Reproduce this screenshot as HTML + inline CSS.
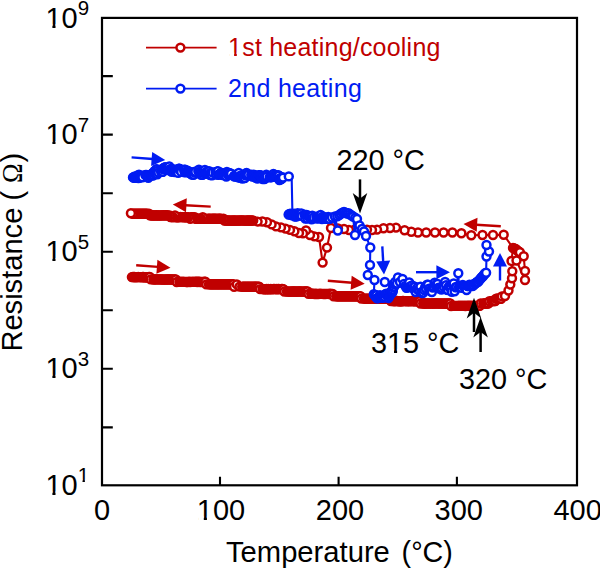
<!DOCTYPE html>
<html>
<head>
<meta charset="utf-8">
<title>Resistance vs Temperature</title>
<style>
html,body{margin:0;padding:0;background:#fff}
body{width:600px;height:569px;overflow:hidden;font-family:"Liberation Sans",sans-serif}
svg{display:block}
</style>
</head>
<body>
<svg width="600" height="569" viewBox="0 0 600 569">
<rect width="600" height="569" fill="#fff"/>
<path d="M102 427.4h10.8M102 368.8h10.8M102 310.3h10.8M102 251.8h10.8M102 193.2h10.8M102 134.6h10.8M102 76.1h10.8M220 485.3v-8.5M338.6 485.3v-8.5M456.9 485.3v-8.5" stroke="#000" stroke-width="2.1" fill="none"/>
<polyline fill="none" stroke="#c00000" stroke-width="2.1" stroke-linejoin="round" points="131.9,277.1 132.8,277 133.7,277 134.6,277 135.5,277.2 136.4,277.1 137.3,277.1 138.2,277 139.1,277.1 140,277.1 140.9,277.1 141.8,277.2 142.7,277 143.5,277 144.4,277.2 145.3,277.2 146.2,277.2 147.1,277.2 148,277.2 148.9,277 149.8,277 150.7,279.4 153.4,279.5 154.3,279.4 155.2,279.4 156.1,279.4 157,279.4 157.9,279.4 158.8,279.4 159.7,279.4 160.6,279.4 161.5,279.4 162.4,279.5 163.3,279.6 164.2,279.4 165.1,279.6 166,279.5 166.8,279.4 167.7,279.5 168.6,279.4 169.5,279.4 170.4,279.5 171.3,279.4 172.2,279.5 173.1,279.6 174,279.4 174.9,279.4 175.8,279.5 176.7,282 179.4,281.9 180.3,281.8 181.2,281.9 182.1,281.9 183,281.8 183.9,281.9 184.8,281.9 185.7,281.9 186.6,282 187.5,282 188.4,281.9 189.3,281.8 190.1,282 191,281.9 191.9,281.9 192.8,281.8 193.7,281.9 194.6,281.9 195.5,281.8 196.4,281.8 197.3,282 198.2,281.8 199.1,281.8 200,282 200.9,281.9 201.8,282 202.7,281.9 203.6,281.9 204.5,281.8 205.4,281.8 206.3,284.4 209,284.4 209.9,284.3 210.8,284.2 211.7,284.3 212.6,284.2 213.5,284.3 214.4,284.4 215.3,284.3 216.2,284.2 217.1,284.3 218,284.3 218.8,284.3 219.7,284.4 220.6,284.4 221.5,284.3 222.4,284.3 223.3,284.4 224.2,284.3 225.1,284.3 226,284.2 226.9,284.3 227.8,284.2 228.7,284.2 229.6,284.3 230.5,284.4 231.4,284.4 232.3,284.2 233.2,284.3 234.1,286.8 236.8,284.4 239.5,286.6 242.2,286.7 243.1,286.6 244,286.8 244.9,286.8 245.8,286.7 246.7,286.7 247.6,286.8 248.4,286.7 249.3,286.7 250.2,286.8 251.1,286.6 252,286.8 252.9,286.7 253.8,286.8 254.7,286.8 255.6,286.7 256.5,286.7 257.4,286.6 258.3,286.6 259.2,286.7 260.1,289.1 262.8,289.1 263.7,289.2 264.6,289.1 265.5,289.2 266.4,289 267.3,289.2 268.2,289 269.1,289.2 269.9,289.1 270.8,289 271.7,289.2 272.6,289.1 273.5,289 274.4,289 275.3,289.1 276.2,289 277.1,289.2 278,289 278.9,289 279.8,289.1 280.7,289.1 281.6,289 282.5,289 283.4,289.1 284.3,291.5 287,291.5 287.9,291.6 288.8,291.4 289.7,291.6 290.6,291.6 291.5,291.5 292.3,291.5 293.2,291.4 294.1,291.5 295,291.5 295.9,291.5 296.8,291.6 297.7,291.5 298.6,291.5 299.5,291.4 300.4,291.5 301.3,291.4 302.2,291.6 303.1,291.6 304,291.5 304.9,291.4 305.8,291.4 306.7,291.5 307.6,291.5 308.5,293.9 311.2,293.8 312.1,293.8 312.9,293.8 313.8,293.9 314.7,294 315.6,293.8 316.5,294 317.4,293.9 318.3,294 319.2,293.9 320.1,293.8 321,293.9 321.9,293.9 322.8,293.9 323.7,294 324.6,293.9 325.5,294 326.4,293.9 327.3,293.9 328.2,293.9 329.1,294 330,293.8 330.9,293.9 331.8,293.9 332.7,293.9 333.6,296.3 336.2,296.3 337.1,296.2 338,296.4 338.9,296.3 339.8,296.3 340.7,296.2 341.6,296.3 342.5,296.2 343.4,296.3 344.3,296.3 345.2,296.2 346.1,296.2 347,296.2 347.9,296.3 348.8,296.3 349.7,296.4 350.6,296.4 351.5,296.2 352.4,296.2 353.3,296.3 354.2,296.2 355,296.4 355.9,296.2 356.8,296.4 357.7,296.3 358.6,296.4 359.5,296.3 360.4,296.2 361.3,298.6 364,298.6 364.9,298.6 365.8,298.7 366.7,298.8 367.6,298.7 368.5,298.8 369.4,298.8 370.3,298.8 371.2,298.8 372.1,298.8 373,298.7 373.9,298.7 374.8,298.6 375.7,298.6 376.6,298.6 377.5,298.6 378.4,298.7 379.3,298.6 380.2,298.6 381.1,298.6 382,298.6 382.8,298.8 383.7,298.6 384.6,298.7 385.5,298.7 386.4,298.8 387.3,298.7 388.2,298.7 389.1,298.6 390,298.7 390.9,301 393.6,301.2 394.5,301.1 395.4,301 396.3,301 397.2,301 398.1,301.1 399,301.2 399.9,301.2 400.8,301.2 401.7,301.2 402.6,301 403.5,301 404.4,301.1 405.3,301.1 406.2,301.1 407.1,301.2 408,301.1 408.9,301.1 409.8,301.2 410.7,301.1 411.6,301 412.5,301.1 413.4,301.1 414.2,301.2 415.1,301.2 416,301 416.9,301 417.8,301.2 418.7,301 419.6,301.1 420.5,303.5 423.2,303.5 424.1,303.5 425,303.5 425.9,303.5 426.8,303.4 427.7,303.4 428.6,303.5 429.5,303.4 430.4,303.6 431.3,303.4 432.2,303.6 433.1,303.4 434,303.5 434.9,303.5 435.8,303.4 436.7,303.4 437.6,303.4 438.5,303.5 439.4,303.6 440.3,303.4 441.2,303.4 442.1,303.6 443,303.5 443.9,303.6 444.8,303.5 445.7,303.5 446.6,303.6 447.5,303.4 448.4,303.5 449.3,303.5 450.2,303.5 451.1,306 453.8,305.9 454.6,305.9 455.5,305.9 456.4,305.9 457.3,305.9 458.2,305.9 459.1,305.8 460,305.9 460.9,305.9 461.8,305.8 462.7,305.9 463.6,305.9 464.5,305.8 465.4,306 466.3,305.9 467.2,305.8 468.1,305.9 469,305.8 469.9,306 470.8,305.8 471.7,306 472.6,305.9 473.5,305.8 474.4,306 475.3,305.9 476.2,306 477.1,306 478,306 478.9,305.8 479.8,305.8 480.7,303.5 483.3,303.5 484.2,303.5 485.1,303.4 485.9,303.5 486.8,303.5 487.7,303.5 488.6,303.4 489.4,301.2 491.9,301 492.8,301.1 493.6,301.1 494.4,301 495.3,301.1 496.1,298.6 496.9,298.8 497.8,298.7 498.6,298.7 499.4,298.7 500.2,298.8 501.1,298.7 501.9,296.4 505,296 508.5,290.5 510.3,284.5 512,278.3 512.3,271.3 511.5,261 513,247.9 514,248.5 515,248.8 516,249.1 517,250.4 517.9,250.9 518.9,251.8 519.9,252.2 523.7,256.3 525,271 525,280 516.5,260.5"/>
<polyline fill="none" stroke="#c00000" stroke-width="2.1" stroke-linejoin="round" points="513,248 503.7,234.7 493,235 482.5,235 471.3,235.3 461.4,233.2 452.4,232.5 443.6,232.5 435,232.5 426.2,232.5 418,232.5 411.3,231.7 404.6,230.3 396,227.6 390,228 383.5,228.2 377,229.6 372,230 367,229.6 361,229.3 355,229.5 349,230 344,229 338,228.5 331,228 327,247.6 322.6,262.6 319,237 314.4,236.4 310,235 306,230.4 303,233.4 299,233 294.4,231.2 290,229.9 285.6,228.6 281,227.4 276,226.4 271.6,224.4 267,222.2 262.4,221.5 257.6,221.6 253.2,220.6 252.3,220.5 251.4,220.5 250.5,220.6 249.6,220.5 248.7,220.5 247.8,220.5 246.9,220.5 246,220.6 245.1,220.6 244.2,220.6 243.3,220.4 242.4,220.4 241.5,220.4 240.6,220.6 239.7,220.4 238.8,220.5 237.9,220.6 237,220.6 236.1,220.5 235.2,220.6 234.3,220.5 233.4,220.5 232.5,220.6 231.6,220.5 230.7,220.6 229.8,220.6 228.9,220.5 228,220.4 227.1,220.5 226.2,220.6 225.3,220.4 224.4,220.5 223.5,218.8 221.7,218.9 220.8,218.7 219.9,218.8 219,218.7 218.1,218.8 217.2,218.9 216.3,218.7 215.4,218.7 214.5,218.7 213.6,218.7 212.7,218.8 211.8,218.7 210.9,218.9 210,218.7 209.1,218.8 208.2,218.8 207.3,218.9 206.4,218.9 205.5,218.9 204.6,218.8 203.7,218.7 202.8,217.1 201,218.8 199.2,218.8 198.4,218.9 197.5,218.8 196.6,218.8 195.7,218.7 194.8,217.1 193,217.1 192.1,217.1 191.2,217.1 190.3,218.8 188.5,217.1 186.7,217.2 185.8,217.2 184.9,217.1 184,217.2 183.1,217.1 182.2,217.1 181.3,217.1 180.4,217 179.5,217.1 178.6,217.1 177.7,217.2 176.8,217.2 175.9,217.1 175,215.5 173.2,217.2 171.4,217.1 170.5,217.1 169.6,215.4 167.8,215.4 166.9,215.3 166,215.3 165.1,215.4 164.2,215.4 163.4,215.3 162.5,215.4 161.6,215.4 160.7,215.4 159.8,215.5 158.9,215.4 158,215.5 157.1,215.4 156.2,215.3 155.3,215.5 154.4,215.4 153.5,215.4 152.6,215.5 151.7,215.3 150.8,215.3 149.9,215.3 149,213.7 147.2,213.8 146.3,213.8 145.4,213.7 144.5,213.6 143.6,213.6 142.7,213.6 141.8,213.6 140.9,213.7 140,213.7 139.1,213.6 138.2,213.7 137.3,213.8 136.4,213.8 135.5,213.7 134.6,213.7 133.7,213.8 132.8,213.8 130.9,213.2"/>
<g fill="#fff" stroke="#c00000" stroke-width="2.5">
<circle cx="131.9" cy="277.1" r="3.95"/>
<circle cx="132.8" cy="277" r="3.95"/>
<circle cx="133.7" cy="277" r="3.95"/>
<circle cx="134.6" cy="277" r="3.95"/>
<circle cx="135.5" cy="277.2" r="3.95"/>
<circle cx="136.4" cy="277.1" r="3.95"/>
<circle cx="137.3" cy="277.1" r="3.95"/>
<circle cx="138.2" cy="277" r="3.95"/>
<circle cx="139.1" cy="277.1" r="3.95"/>
<circle cx="140" cy="277.1" r="3.95"/>
<circle cx="140.9" cy="277.1" r="3.95"/>
<circle cx="141.8" cy="277.2" r="3.95"/>
<circle cx="142.7" cy="277" r="3.95"/>
<circle cx="143.5" cy="277" r="3.95"/>
<circle cx="144.4" cy="277.2" r="3.95"/>
<circle cx="145.3" cy="277.2" r="3.95"/>
<circle cx="146.2" cy="277.2" r="3.95"/>
<circle cx="147.1" cy="277.2" r="3.95"/>
<circle cx="148" cy="277.2" r="3.95"/>
<circle cx="148.9" cy="277" r="3.95"/>
<circle cx="149.8" cy="277" r="3.95"/>
<circle cx="150.7" cy="279.4" r="3.95"/>
<circle cx="153.4" cy="279.5" r="3.95"/>
<circle cx="154.3" cy="279.4" r="3.95"/>
<circle cx="155.2" cy="279.4" r="3.95"/>
<circle cx="156.1" cy="279.4" r="3.95"/>
<circle cx="157" cy="279.4" r="3.95"/>
<circle cx="157.9" cy="279.4" r="3.95"/>
<circle cx="158.8" cy="279.4" r="3.95"/>
<circle cx="159.7" cy="279.4" r="3.95"/>
<circle cx="160.6" cy="279.4" r="3.95"/>
<circle cx="161.5" cy="279.4" r="3.95"/>
<circle cx="162.4" cy="279.5" r="3.95"/>
<circle cx="163.3" cy="279.6" r="3.95"/>
<circle cx="164.2" cy="279.4" r="3.95"/>
<circle cx="165.1" cy="279.6" r="3.95"/>
<circle cx="166" cy="279.5" r="3.95"/>
<circle cx="166.8" cy="279.4" r="3.95"/>
<circle cx="167.7" cy="279.5" r="3.95"/>
<circle cx="168.6" cy="279.4" r="3.95"/>
<circle cx="169.5" cy="279.4" r="3.95"/>
<circle cx="170.4" cy="279.5" r="3.95"/>
<circle cx="171.3" cy="279.4" r="3.95"/>
<circle cx="172.2" cy="279.5" r="3.95"/>
<circle cx="173.1" cy="279.6" r="3.95"/>
<circle cx="174" cy="279.4" r="3.95"/>
<circle cx="174.9" cy="279.4" r="3.95"/>
<circle cx="175.8" cy="279.5" r="3.95"/>
<circle cx="176.7" cy="282" r="3.95"/>
<circle cx="179.4" cy="281.9" r="3.95"/>
<circle cx="180.3" cy="281.8" r="3.95"/>
<circle cx="181.2" cy="281.9" r="3.95"/>
<circle cx="182.1" cy="281.9" r="3.95"/>
<circle cx="183" cy="281.8" r="3.95"/>
<circle cx="183.9" cy="281.9" r="3.95"/>
<circle cx="184.8" cy="281.9" r="3.95"/>
<circle cx="185.7" cy="281.9" r="3.95"/>
<circle cx="186.6" cy="282" r="3.95"/>
<circle cx="187.5" cy="282" r="3.95"/>
<circle cx="188.4" cy="281.9" r="3.95"/>
<circle cx="189.3" cy="281.8" r="3.95"/>
<circle cx="190.1" cy="282" r="3.95"/>
<circle cx="191" cy="281.9" r="3.95"/>
<circle cx="191.9" cy="281.9" r="3.95"/>
<circle cx="192.8" cy="281.8" r="3.95"/>
<circle cx="193.7" cy="281.9" r="3.95"/>
<circle cx="194.6" cy="281.9" r="3.95"/>
<circle cx="195.5" cy="281.8" r="3.95"/>
<circle cx="196.4" cy="281.8" r="3.95"/>
<circle cx="197.3" cy="282" r="3.95"/>
<circle cx="198.2" cy="281.8" r="3.95"/>
<circle cx="199.1" cy="281.8" r="3.95"/>
<circle cx="200" cy="282" r="3.95"/>
<circle cx="200.9" cy="281.9" r="3.95"/>
<circle cx="201.8" cy="282" r="3.95"/>
<circle cx="202.7" cy="281.9" r="3.95"/>
<circle cx="203.6" cy="281.9" r="3.95"/>
<circle cx="204.5" cy="281.8" r="3.95"/>
<circle cx="205.4" cy="281.8" r="3.95"/>
<circle cx="206.3" cy="284.4" r="3.95"/>
<circle cx="209" cy="284.4" r="3.95"/>
<circle cx="209.9" cy="284.3" r="3.95"/>
<circle cx="210.8" cy="284.2" r="3.95"/>
<circle cx="211.7" cy="284.3" r="3.95"/>
<circle cx="212.6" cy="284.2" r="3.95"/>
<circle cx="213.5" cy="284.3" r="3.95"/>
<circle cx="214.4" cy="284.4" r="3.95"/>
<circle cx="215.3" cy="284.3" r="3.95"/>
<circle cx="216.2" cy="284.2" r="3.95"/>
<circle cx="217.1" cy="284.3" r="3.95"/>
<circle cx="218" cy="284.3" r="3.95"/>
<circle cx="218.8" cy="284.3" r="3.95"/>
<circle cx="219.7" cy="284.4" r="3.95"/>
<circle cx="220.6" cy="284.4" r="3.95"/>
<circle cx="221.5" cy="284.3" r="3.95"/>
<circle cx="222.4" cy="284.3" r="3.95"/>
<circle cx="223.3" cy="284.4" r="3.95"/>
<circle cx="224.2" cy="284.3" r="3.95"/>
<circle cx="225.1" cy="284.3" r="3.95"/>
<circle cx="226" cy="284.2" r="3.95"/>
<circle cx="226.9" cy="284.3" r="3.95"/>
<circle cx="227.8" cy="284.2" r="3.95"/>
<circle cx="228.7" cy="284.2" r="3.95"/>
<circle cx="229.6" cy="284.3" r="3.95"/>
<circle cx="230.5" cy="284.4" r="3.95"/>
<circle cx="231.4" cy="284.4" r="3.95"/>
<circle cx="232.3" cy="284.2" r="3.95"/>
<circle cx="233.2" cy="284.3" r="3.95"/>
<circle cx="234.1" cy="286.8" r="3.95"/>
<circle cx="236.8" cy="284.4" r="3.95"/>
<circle cx="239.5" cy="286.6" r="3.95"/>
<circle cx="242.2" cy="286.7" r="3.95"/>
<circle cx="243.1" cy="286.6" r="3.95"/>
<circle cx="244" cy="286.8" r="3.95"/>
<circle cx="244.9" cy="286.8" r="3.95"/>
<circle cx="245.8" cy="286.7" r="3.95"/>
<circle cx="246.7" cy="286.7" r="3.95"/>
<circle cx="247.6" cy="286.8" r="3.95"/>
<circle cx="248.4" cy="286.7" r="3.95"/>
<circle cx="249.3" cy="286.7" r="3.95"/>
<circle cx="250.2" cy="286.8" r="3.95"/>
<circle cx="251.1" cy="286.6" r="3.95"/>
<circle cx="252" cy="286.8" r="3.95"/>
<circle cx="252.9" cy="286.7" r="3.95"/>
<circle cx="253.8" cy="286.8" r="3.95"/>
<circle cx="254.7" cy="286.8" r="3.95"/>
<circle cx="255.6" cy="286.7" r="3.95"/>
<circle cx="256.5" cy="286.7" r="3.95"/>
<circle cx="257.4" cy="286.6" r="3.95"/>
<circle cx="258.3" cy="286.6" r="3.95"/>
<circle cx="259.2" cy="286.7" r="3.95"/>
<circle cx="260.1" cy="289.1" r="3.95"/>
<circle cx="262.8" cy="289.1" r="3.95"/>
<circle cx="263.7" cy="289.2" r="3.95"/>
<circle cx="264.6" cy="289.1" r="3.95"/>
<circle cx="265.5" cy="289.2" r="3.95"/>
<circle cx="266.4" cy="289" r="3.95"/>
<circle cx="267.3" cy="289.2" r="3.95"/>
<circle cx="268.2" cy="289" r="3.95"/>
<circle cx="269.1" cy="289.2" r="3.95"/>
<circle cx="269.9" cy="289.1" r="3.95"/>
<circle cx="270.8" cy="289" r="3.95"/>
<circle cx="271.7" cy="289.2" r="3.95"/>
<circle cx="272.6" cy="289.1" r="3.95"/>
<circle cx="273.5" cy="289" r="3.95"/>
<circle cx="274.4" cy="289" r="3.95"/>
<circle cx="275.3" cy="289.1" r="3.95"/>
<circle cx="276.2" cy="289" r="3.95"/>
<circle cx="277.1" cy="289.2" r="3.95"/>
<circle cx="278" cy="289" r="3.95"/>
<circle cx="278.9" cy="289" r="3.95"/>
<circle cx="279.8" cy="289.1" r="3.95"/>
<circle cx="280.7" cy="289.1" r="3.95"/>
<circle cx="281.6" cy="289" r="3.95"/>
<circle cx="282.5" cy="289" r="3.95"/>
<circle cx="283.4" cy="289.1" r="3.95"/>
<circle cx="284.3" cy="291.5" r="3.95"/>
<circle cx="287" cy="291.5" r="3.95"/>
<circle cx="287.9" cy="291.6" r="3.95"/>
<circle cx="288.8" cy="291.4" r="3.95"/>
<circle cx="289.7" cy="291.6" r="3.95"/>
<circle cx="290.6" cy="291.6" r="3.95"/>
<circle cx="291.5" cy="291.5" r="3.95"/>
<circle cx="292.3" cy="291.5" r="3.95"/>
<circle cx="293.2" cy="291.4" r="3.95"/>
<circle cx="294.1" cy="291.5" r="3.95"/>
<circle cx="295" cy="291.5" r="3.95"/>
<circle cx="295.9" cy="291.5" r="3.95"/>
<circle cx="296.8" cy="291.6" r="3.95"/>
<circle cx="297.7" cy="291.5" r="3.95"/>
<circle cx="298.6" cy="291.5" r="3.95"/>
<circle cx="299.5" cy="291.4" r="3.95"/>
<circle cx="300.4" cy="291.5" r="3.95"/>
<circle cx="301.3" cy="291.4" r="3.95"/>
<circle cx="302.2" cy="291.6" r="3.95"/>
<circle cx="303.1" cy="291.6" r="3.95"/>
<circle cx="304" cy="291.5" r="3.95"/>
<circle cx="304.9" cy="291.4" r="3.95"/>
<circle cx="305.8" cy="291.4" r="3.95"/>
<circle cx="306.7" cy="291.5" r="3.95"/>
<circle cx="307.6" cy="291.5" r="3.95"/>
<circle cx="308.5" cy="293.9" r="3.95"/>
<circle cx="311.2" cy="293.8" r="3.95"/>
<circle cx="312.1" cy="293.8" r="3.95"/>
<circle cx="312.9" cy="293.8" r="3.95"/>
<circle cx="313.8" cy="293.9" r="3.95"/>
<circle cx="314.7" cy="294" r="3.95"/>
<circle cx="315.6" cy="293.8" r="3.95"/>
<circle cx="316.5" cy="294" r="3.95"/>
<circle cx="317.4" cy="293.9" r="3.95"/>
<circle cx="318.3" cy="294" r="3.95"/>
<circle cx="319.2" cy="293.9" r="3.95"/>
<circle cx="320.1" cy="293.8" r="3.95"/>
<circle cx="321" cy="293.9" r="3.95"/>
<circle cx="321.9" cy="293.9" r="3.95"/>
<circle cx="322.8" cy="293.9" r="3.95"/>
<circle cx="323.7" cy="294" r="3.95"/>
<circle cx="324.6" cy="293.9" r="3.95"/>
<circle cx="325.5" cy="294" r="3.95"/>
<circle cx="326.4" cy="293.9" r="3.95"/>
<circle cx="327.3" cy="293.9" r="3.95"/>
<circle cx="328.2" cy="293.9" r="3.95"/>
<circle cx="329.1" cy="294" r="3.95"/>
<circle cx="330" cy="293.8" r="3.95"/>
<circle cx="330.9" cy="293.9" r="3.95"/>
<circle cx="331.8" cy="293.9" r="3.95"/>
<circle cx="332.7" cy="293.9" r="3.95"/>
<circle cx="333.6" cy="296.3" r="3.95"/>
<circle cx="336.2" cy="296.3" r="3.95"/>
<circle cx="337.1" cy="296.2" r="3.95"/>
<circle cx="338" cy="296.4" r="3.95"/>
<circle cx="338.9" cy="296.3" r="3.95"/>
<circle cx="339.8" cy="296.3" r="3.95"/>
<circle cx="340.7" cy="296.2" r="3.95"/>
<circle cx="341.6" cy="296.3" r="3.95"/>
<circle cx="342.5" cy="296.2" r="3.95"/>
<circle cx="343.4" cy="296.3" r="3.95"/>
<circle cx="344.3" cy="296.3" r="3.95"/>
<circle cx="345.2" cy="296.2" r="3.95"/>
<circle cx="346.1" cy="296.2" r="3.95"/>
<circle cx="347" cy="296.2" r="3.95"/>
<circle cx="347.9" cy="296.3" r="3.95"/>
<circle cx="348.8" cy="296.3" r="3.95"/>
<circle cx="349.7" cy="296.4" r="3.95"/>
<circle cx="350.6" cy="296.4" r="3.95"/>
<circle cx="351.5" cy="296.2" r="3.95"/>
<circle cx="352.4" cy="296.2" r="3.95"/>
<circle cx="353.3" cy="296.3" r="3.95"/>
<circle cx="354.2" cy="296.2" r="3.95"/>
<circle cx="355" cy="296.4" r="3.95"/>
<circle cx="355.9" cy="296.2" r="3.95"/>
<circle cx="356.8" cy="296.4" r="3.95"/>
<circle cx="357.7" cy="296.3" r="3.95"/>
<circle cx="358.6" cy="296.4" r="3.95"/>
<circle cx="359.5" cy="296.3" r="3.95"/>
<circle cx="360.4" cy="296.2" r="3.95"/>
<circle cx="361.3" cy="298.6" r="3.95"/>
<circle cx="364" cy="298.6" r="3.95"/>
<circle cx="364.9" cy="298.6" r="3.95"/>
<circle cx="365.8" cy="298.7" r="3.95"/>
<circle cx="366.7" cy="298.8" r="3.95"/>
<circle cx="367.6" cy="298.7" r="3.95"/>
<circle cx="368.5" cy="298.8" r="3.95"/>
<circle cx="369.4" cy="298.8" r="3.95"/>
<circle cx="370.3" cy="298.8" r="3.95"/>
<circle cx="371.2" cy="298.8" r="3.95"/>
<circle cx="372.1" cy="298.8" r="3.95"/>
<circle cx="373" cy="298.7" r="3.95"/>
<circle cx="373.9" cy="298.7" r="3.95"/>
<circle cx="374.8" cy="298.6" r="3.95"/>
<circle cx="375.7" cy="298.6" r="3.95"/>
<circle cx="376.6" cy="298.6" r="3.95"/>
<circle cx="377.5" cy="298.6" r="3.95"/>
<circle cx="378.4" cy="298.7" r="3.95"/>
<circle cx="379.3" cy="298.6" r="3.95"/>
<circle cx="380.2" cy="298.6" r="3.95"/>
<circle cx="381.1" cy="298.6" r="3.95"/>
<circle cx="382" cy="298.6" r="3.95"/>
<circle cx="382.8" cy="298.8" r="3.95"/>
<circle cx="383.7" cy="298.6" r="3.95"/>
<circle cx="384.6" cy="298.7" r="3.95"/>
<circle cx="385.5" cy="298.7" r="3.95"/>
<circle cx="386.4" cy="298.8" r="3.95"/>
<circle cx="387.3" cy="298.7" r="3.95"/>
<circle cx="388.2" cy="298.7" r="3.95"/>
<circle cx="389.1" cy="298.6" r="3.95"/>
<circle cx="390" cy="298.7" r="3.95"/>
<circle cx="390.9" cy="301" r="3.95"/>
<circle cx="393.6" cy="301.2" r="3.95"/>
<circle cx="394.5" cy="301.1" r="3.95"/>
<circle cx="395.4" cy="301" r="3.95"/>
<circle cx="396.3" cy="301" r="3.95"/>
<circle cx="397.2" cy="301" r="3.95"/>
<circle cx="398.1" cy="301.1" r="3.95"/>
<circle cx="399" cy="301.2" r="3.95"/>
<circle cx="399.9" cy="301.2" r="3.95"/>
<circle cx="400.8" cy="301.2" r="3.95"/>
<circle cx="401.7" cy="301.2" r="3.95"/>
<circle cx="402.6" cy="301" r="3.95"/>
<circle cx="403.5" cy="301" r="3.95"/>
<circle cx="404.4" cy="301.1" r="3.95"/>
<circle cx="405.3" cy="301.1" r="3.95"/>
<circle cx="406.2" cy="301.1" r="3.95"/>
<circle cx="407.1" cy="301.2" r="3.95"/>
<circle cx="408" cy="301.1" r="3.95"/>
<circle cx="408.9" cy="301.1" r="3.95"/>
<circle cx="409.8" cy="301.2" r="3.95"/>
<circle cx="410.7" cy="301.1" r="3.95"/>
<circle cx="411.6" cy="301" r="3.95"/>
<circle cx="412.5" cy="301.1" r="3.95"/>
<circle cx="413.4" cy="301.1" r="3.95"/>
<circle cx="414.2" cy="301.2" r="3.95"/>
<circle cx="415.1" cy="301.2" r="3.95"/>
<circle cx="416" cy="301" r="3.95"/>
<circle cx="416.9" cy="301" r="3.95"/>
<circle cx="417.8" cy="301.2" r="3.95"/>
<circle cx="418.7" cy="301" r="3.95"/>
<circle cx="419.6" cy="301.1" r="3.95"/>
<circle cx="420.5" cy="303.5" r="3.95"/>
<circle cx="423.2" cy="303.5" r="3.95"/>
<circle cx="424.1" cy="303.5" r="3.95"/>
<circle cx="425" cy="303.5" r="3.95"/>
<circle cx="425.9" cy="303.5" r="3.95"/>
<circle cx="426.8" cy="303.4" r="3.95"/>
<circle cx="427.7" cy="303.4" r="3.95"/>
<circle cx="428.6" cy="303.5" r="3.95"/>
<circle cx="429.5" cy="303.4" r="3.95"/>
<circle cx="430.4" cy="303.6" r="3.95"/>
<circle cx="431.3" cy="303.4" r="3.95"/>
<circle cx="432.2" cy="303.6" r="3.95"/>
<circle cx="433.1" cy="303.4" r="3.95"/>
<circle cx="434" cy="303.5" r="3.95"/>
<circle cx="434.9" cy="303.5" r="3.95"/>
<circle cx="435.8" cy="303.4" r="3.95"/>
<circle cx="436.7" cy="303.4" r="3.95"/>
<circle cx="437.6" cy="303.4" r="3.95"/>
<circle cx="438.5" cy="303.5" r="3.95"/>
<circle cx="439.4" cy="303.6" r="3.95"/>
<circle cx="440.3" cy="303.4" r="3.95"/>
<circle cx="441.2" cy="303.4" r="3.95"/>
<circle cx="442.1" cy="303.6" r="3.95"/>
<circle cx="443" cy="303.5" r="3.95"/>
<circle cx="443.9" cy="303.6" r="3.95"/>
<circle cx="444.8" cy="303.5" r="3.95"/>
<circle cx="445.7" cy="303.5" r="3.95"/>
<circle cx="446.6" cy="303.6" r="3.95"/>
<circle cx="447.5" cy="303.4" r="3.95"/>
<circle cx="448.4" cy="303.5" r="3.95"/>
<circle cx="449.3" cy="303.5" r="3.95"/>
<circle cx="450.2" cy="303.5" r="3.95"/>
<circle cx="451.1" cy="306" r="3.95"/>
<circle cx="453.8" cy="305.9" r="3.95"/>
<circle cx="454.6" cy="305.9" r="3.95"/>
<circle cx="455.5" cy="305.9" r="3.95"/>
<circle cx="456.4" cy="305.9" r="3.95"/>
<circle cx="457.3" cy="305.9" r="3.95"/>
<circle cx="458.2" cy="305.9" r="3.95"/>
<circle cx="459.1" cy="305.8" r="3.95"/>
<circle cx="460" cy="305.9" r="3.95"/>
<circle cx="460.9" cy="305.9" r="3.95"/>
<circle cx="461.8" cy="305.8" r="3.95"/>
<circle cx="462.7" cy="305.9" r="3.95"/>
<circle cx="463.6" cy="305.9" r="3.95"/>
<circle cx="464.5" cy="305.8" r="3.95"/>
<circle cx="465.4" cy="306" r="3.95"/>
<circle cx="466.3" cy="305.9" r="3.95"/>
<circle cx="467.2" cy="305.8" r="3.95"/>
<circle cx="468.1" cy="305.9" r="3.95"/>
<circle cx="469" cy="305.8" r="3.95"/>
<circle cx="469.9" cy="306" r="3.95"/>
<circle cx="470.8" cy="305.8" r="3.95"/>
<circle cx="471.7" cy="306" r="3.95"/>
<circle cx="472.6" cy="305.9" r="3.95"/>
<circle cx="473.5" cy="305.8" r="3.95"/>
<circle cx="474.4" cy="306" r="3.95"/>
<circle cx="475.3" cy="305.9" r="3.95"/>
<circle cx="476.2" cy="306" r="3.95"/>
<circle cx="477.1" cy="306" r="3.95"/>
<circle cx="478" cy="306" r="3.95"/>
<circle cx="478.9" cy="305.8" r="3.95"/>
<circle cx="479.8" cy="305.8" r="3.95"/>
<circle cx="480.7" cy="303.5" r="3.95"/>
<circle cx="483.3" cy="303.5" r="3.95"/>
<circle cx="484.2" cy="303.5" r="3.95"/>
<circle cx="485.1" cy="303.4" r="3.95"/>
<circle cx="485.9" cy="303.5" r="3.95"/>
<circle cx="486.8" cy="303.5" r="3.95"/>
<circle cx="487.7" cy="303.5" r="3.95"/>
<circle cx="488.6" cy="303.4" r="3.95"/>
<circle cx="489.4" cy="301.2" r="3.95"/>
<circle cx="491.9" cy="301" r="3.95"/>
<circle cx="492.8" cy="301.1" r="3.95"/>
<circle cx="493.6" cy="301.1" r="3.95"/>
<circle cx="494.4" cy="301" r="3.95"/>
<circle cx="495.3" cy="301.1" r="3.95"/>
<circle cx="496.1" cy="298.6" r="3.95"/>
<circle cx="496.9" cy="298.8" r="3.95"/>
<circle cx="497.8" cy="298.7" r="3.95"/>
<circle cx="498.6" cy="298.7" r="3.95"/>
<circle cx="499.4" cy="298.7" r="3.95"/>
<circle cx="500.2" cy="298.8" r="3.95"/>
<circle cx="501.1" cy="298.7" r="3.95"/>
<circle cx="501.9" cy="296.4" r="3.95"/>
<circle cx="505" cy="296" r="3.95"/>
<circle cx="508.5" cy="290.5" r="3.95"/>
<circle cx="510.3" cy="284.5" r="3.95"/>
<circle cx="512" cy="278.3" r="3.95"/>
<circle cx="512.3" cy="271.3" r="3.95"/>
<circle cx="511.5" cy="261" r="3.95"/>
<circle cx="513" cy="247.9" r="3.95"/>
<circle cx="514" cy="248.5" r="3.95"/>
<circle cx="515" cy="248.8" r="3.95"/>
<circle cx="516" cy="249.1" r="3.95"/>
<circle cx="517" cy="250.4" r="3.95"/>
<circle cx="517.9" cy="250.9" r="3.95"/>
<circle cx="518.9" cy="251.8" r="3.95"/>
<circle cx="519.9" cy="252.2" r="3.95"/>
<circle cx="523.7" cy="256.3" r="3.95"/>
<circle cx="525" cy="271" r="3.95"/>
<circle cx="525" cy="280" r="3.95"/>
<circle cx="516.5" cy="260.5" r="3.95"/>
<circle cx="503.7" cy="234.7" r="3.95"/>
<circle cx="493" cy="235" r="3.95"/>
<circle cx="482.5" cy="235" r="3.95"/>
<circle cx="471.3" cy="235.3" r="3.95"/>
<circle cx="461.4" cy="233.2" r="3.95"/>
<circle cx="452.4" cy="232.5" r="3.95"/>
<circle cx="443.6" cy="232.5" r="3.95"/>
<circle cx="435" cy="232.5" r="3.95"/>
<circle cx="426.2" cy="232.5" r="3.95"/>
<circle cx="418" cy="232.5" r="3.95"/>
<circle cx="411.3" cy="231.7" r="3.95"/>
<circle cx="404.6" cy="230.3" r="3.95"/>
<circle cx="396" cy="227.6" r="3.95"/>
<circle cx="390" cy="228" r="3.95"/>
<circle cx="383.5" cy="228.2" r="3.95"/>
<circle cx="377" cy="229.6" r="3.95"/>
<circle cx="372" cy="230" r="3.95"/>
<circle cx="367" cy="229.6" r="3.95"/>
<circle cx="361" cy="229.3" r="3.95"/>
<circle cx="355" cy="229.5" r="3.95"/>
<circle cx="349" cy="230" r="3.95"/>
<circle cx="344" cy="229" r="3.95"/>
<circle cx="338" cy="228.5" r="3.95"/>
<circle cx="331" cy="228" r="3.95"/>
<circle cx="327" cy="247.6" r="3.95"/>
<circle cx="322.6" cy="262.6" r="3.95"/>
<circle cx="319" cy="237" r="3.95"/>
<circle cx="314.4" cy="236.4" r="3.95"/>
<circle cx="310" cy="235" r="3.95"/>
<circle cx="306" cy="230.4" r="3.95"/>
<circle cx="303" cy="233.4" r="3.95"/>
<circle cx="299" cy="233" r="3.95"/>
<circle cx="294.4" cy="231.2" r="3.95"/>
<circle cx="290" cy="229.9" r="3.95"/>
<circle cx="285.6" cy="228.6" r="3.95"/>
<circle cx="281" cy="227.4" r="3.95"/>
<circle cx="276" cy="226.4" r="3.95"/>
<circle cx="271.6" cy="224.4" r="3.95"/>
<circle cx="267" cy="222.2" r="3.95"/>
<circle cx="262.4" cy="221.5" r="3.95"/>
<circle cx="257.6" cy="221.6" r="3.95"/>
<circle cx="253.2" cy="220.6" r="3.95"/>
<circle cx="252.3" cy="220.5" r="3.95"/>
<circle cx="251.4" cy="220.5" r="3.95"/>
<circle cx="250.5" cy="220.6" r="3.95"/>
<circle cx="249.6" cy="220.5" r="3.95"/>
<circle cx="248.7" cy="220.5" r="3.95"/>
<circle cx="247.8" cy="220.5" r="3.95"/>
<circle cx="246.9" cy="220.5" r="3.95"/>
<circle cx="246" cy="220.6" r="3.95"/>
<circle cx="245.1" cy="220.6" r="3.95"/>
<circle cx="244.2" cy="220.6" r="3.95"/>
<circle cx="243.3" cy="220.4" r="3.95"/>
<circle cx="242.4" cy="220.4" r="3.95"/>
<circle cx="241.5" cy="220.4" r="3.95"/>
<circle cx="240.6" cy="220.6" r="3.95"/>
<circle cx="239.7" cy="220.4" r="3.95"/>
<circle cx="238.8" cy="220.5" r="3.95"/>
<circle cx="237.9" cy="220.6" r="3.95"/>
<circle cx="237" cy="220.6" r="3.95"/>
<circle cx="236.1" cy="220.5" r="3.95"/>
<circle cx="235.2" cy="220.6" r="3.95"/>
<circle cx="234.3" cy="220.5" r="3.95"/>
<circle cx="233.4" cy="220.5" r="3.95"/>
<circle cx="232.5" cy="220.6" r="3.95"/>
<circle cx="231.6" cy="220.5" r="3.95"/>
<circle cx="230.7" cy="220.6" r="3.95"/>
<circle cx="229.8" cy="220.6" r="3.95"/>
<circle cx="228.9" cy="220.5" r="3.95"/>
<circle cx="228" cy="220.4" r="3.95"/>
<circle cx="227.1" cy="220.5" r="3.95"/>
<circle cx="226.2" cy="220.6" r="3.95"/>
<circle cx="225.3" cy="220.4" r="3.95"/>
<circle cx="224.4" cy="220.5" r="3.95"/>
<circle cx="223.5" cy="218.8" r="3.95"/>
<circle cx="221.7" cy="218.9" r="3.95"/>
<circle cx="220.8" cy="218.7" r="3.95"/>
<circle cx="219.9" cy="218.8" r="3.95"/>
<circle cx="219" cy="218.7" r="3.95"/>
<circle cx="218.1" cy="218.8" r="3.95"/>
<circle cx="217.2" cy="218.9" r="3.95"/>
<circle cx="216.3" cy="218.7" r="3.95"/>
<circle cx="215.4" cy="218.7" r="3.95"/>
<circle cx="214.5" cy="218.7" r="3.95"/>
<circle cx="213.6" cy="218.7" r="3.95"/>
<circle cx="212.7" cy="218.8" r="3.95"/>
<circle cx="211.8" cy="218.7" r="3.95"/>
<circle cx="210.9" cy="218.9" r="3.95"/>
<circle cx="210" cy="218.7" r="3.95"/>
<circle cx="209.1" cy="218.8" r="3.95"/>
<circle cx="208.2" cy="218.8" r="3.95"/>
<circle cx="207.3" cy="218.9" r="3.95"/>
<circle cx="206.4" cy="218.9" r="3.95"/>
<circle cx="205.5" cy="218.9" r="3.95"/>
<circle cx="204.6" cy="218.8" r="3.95"/>
<circle cx="203.7" cy="218.7" r="3.95"/>
<circle cx="202.8" cy="217.1" r="3.95"/>
<circle cx="201" cy="218.8" r="3.95"/>
<circle cx="199.2" cy="218.8" r="3.95"/>
<circle cx="198.4" cy="218.9" r="3.95"/>
<circle cx="197.5" cy="218.8" r="3.95"/>
<circle cx="196.6" cy="218.8" r="3.95"/>
<circle cx="195.7" cy="218.7" r="3.95"/>
<circle cx="194.8" cy="217.1" r="3.95"/>
<circle cx="193" cy="217.1" r="3.95"/>
<circle cx="192.1" cy="217.1" r="3.95"/>
<circle cx="191.2" cy="217.1" r="3.95"/>
<circle cx="190.3" cy="218.8" r="3.95"/>
<circle cx="188.5" cy="217.1" r="3.95"/>
<circle cx="186.7" cy="217.2" r="3.95"/>
<circle cx="185.8" cy="217.2" r="3.95"/>
<circle cx="184.9" cy="217.1" r="3.95"/>
<circle cx="184" cy="217.2" r="3.95"/>
<circle cx="183.1" cy="217.1" r="3.95"/>
<circle cx="182.2" cy="217.1" r="3.95"/>
<circle cx="181.3" cy="217.1" r="3.95"/>
<circle cx="180.4" cy="217" r="3.95"/>
<circle cx="179.5" cy="217.1" r="3.95"/>
<circle cx="178.6" cy="217.1" r="3.95"/>
<circle cx="177.7" cy="217.2" r="3.95"/>
<circle cx="176.8" cy="217.2" r="3.95"/>
<circle cx="175.9" cy="217.1" r="3.95"/>
<circle cx="175" cy="215.5" r="3.95"/>
<circle cx="173.2" cy="217.2" r="3.95"/>
<circle cx="171.4" cy="217.1" r="3.95"/>
<circle cx="170.5" cy="217.1" r="3.95"/>
<circle cx="169.6" cy="215.4" r="3.95"/>
<circle cx="167.8" cy="215.4" r="3.95"/>
<circle cx="166.9" cy="215.3" r="3.95"/>
<circle cx="166" cy="215.3" r="3.95"/>
<circle cx="165.1" cy="215.4" r="3.95"/>
<circle cx="164.2" cy="215.4" r="3.95"/>
<circle cx="163.4" cy="215.3" r="3.95"/>
<circle cx="162.5" cy="215.4" r="3.95"/>
<circle cx="161.6" cy="215.4" r="3.95"/>
<circle cx="160.7" cy="215.4" r="3.95"/>
<circle cx="159.8" cy="215.5" r="3.95"/>
<circle cx="158.9" cy="215.4" r="3.95"/>
<circle cx="158" cy="215.5" r="3.95"/>
<circle cx="157.1" cy="215.4" r="3.95"/>
<circle cx="156.2" cy="215.3" r="3.95"/>
<circle cx="155.3" cy="215.5" r="3.95"/>
<circle cx="154.4" cy="215.4" r="3.95"/>
<circle cx="153.5" cy="215.4" r="3.95"/>
<circle cx="152.6" cy="215.5" r="3.95"/>
<circle cx="151.7" cy="215.3" r="3.95"/>
<circle cx="150.8" cy="215.3" r="3.95"/>
<circle cx="149.9" cy="215.3" r="3.95"/>
<circle cx="149" cy="213.7" r="3.95"/>
<circle cx="147.2" cy="213.8" r="3.95"/>
<circle cx="146.3" cy="213.8" r="3.95"/>
<circle cx="145.4" cy="213.7" r="3.95"/>
<circle cx="144.5" cy="213.6" r="3.95"/>
<circle cx="143.6" cy="213.6" r="3.95"/>
<circle cx="142.7" cy="213.6" r="3.95"/>
<circle cx="141.8" cy="213.6" r="3.95"/>
<circle cx="140.9" cy="213.7" r="3.95"/>
<circle cx="140" cy="213.7" r="3.95"/>
<circle cx="139.1" cy="213.6" r="3.95"/>
<circle cx="138.2" cy="213.7" r="3.95"/>
<circle cx="137.3" cy="213.8" r="3.95"/>
<circle cx="136.4" cy="213.8" r="3.95"/>
<circle cx="135.5" cy="213.7" r="3.95"/>
<circle cx="134.6" cy="213.7" r="3.95"/>
<circle cx="133.7" cy="213.8" r="3.95"/>
<circle cx="132.8" cy="213.8" r="3.95"/>
<circle cx="130.9" cy="213.2" r="3.95"/>
</g>
<polyline fill="none" stroke="#001cf2" stroke-width="2.1" stroke-linejoin="round" points="133,177.4 133.6,177.4 134.2,177.7 134.8,176.5 135.4,177.9 136,177.7 136.6,177.5 137.2,177.4 137.8,175.5 138.4,178 139,174.7 139.6,177.8 140.2,176.3 140.8,176.9 141.4,176.1 142,175.7 142.5,177.2 145.4,175 146,175.1 146.6,174.9 147.2,176.1 147.8,176 148.3,177.7 148.9,175.7 149.5,175.7 150.1,175 150.7,174.7 151.2,174.4 151.8,175.1 152.3,175.5 152.9,172.9 153.4,175.3 154,173.2 154.5,171.1 155.1,173.1 155.6,171.2 156.2,169.4 156.7,169.1 157.3,174.2 157.8,170.7 158.4,172.6 161.1,171.8 161.7,169.3 162.2,171.7 162.8,171.7 163.3,169.4 163.9,167.9 164.5,167.7 165.1,167.3 165.7,168 166.3,168 166.9,169.5 167.5,169.7 168.1,169.4 168.7,168.8 169.3,166.5 169.9,170.6 170.5,169 171.1,169.3 171.7,171.8 172.3,169.1 172.9,170.3 173.5,169.9 174.1,169.6 174.7,172 175.3,170.8 175.9,169.8 176.5,171.7 177,171.2 177.6,171 178.2,172.9 178.8,168.8 179.4,168.6 180,169.2 180.6,170.6 181.2,171.9 184.1,169.7 184.7,172.3 185.2,169.6 185.8,172 186.4,171.9 187,171.6 187.6,170.6 188.2,172.2 188.8,172.1 189.4,171.7 190,172.9 190.6,173.5 191.2,173.2 191.8,174.5 192.4,174.3 193,174.2 193.6,174.8 194.2,172 194.8,172.5 195.4,171.8 198.3,171.1 198.9,169.6 199.5,171.7 200.1,172.1 200.7,174.5 201.3,172.7 201.9,174.9 202.5,174.7 203.1,172.8 203.7,172.2 204.3,172.5 204.9,169.9 205.5,173.4 206.1,172.4 206.7,171.6 207.3,173.3 207.9,172.4 208.5,174.1 209.1,171.2 209.7,174.2 210.3,175 210.9,172.6 211.5,174.2 212.1,175.3 212.7,172.5 215.6,172.1 216.2,174.5 216.8,171.8 217.4,171.7 218,171.3 218.6,174.7 219.2,174.4 219.8,173.9 220.4,174.1 221,172.7 221.6,173.1 222.2,174.6 222.7,175 223.3,174.9 223.9,174.7 224.5,173.6 225.1,174 225.7,173 226.3,176.5 226.9,172 227.5,173 228.1,174.8 228.7,175 229.3,173.2 229.9,173.2 230.5,174.1 231.1,173.6 234,176.2 234.6,175.8 235.2,176.5 235.8,176.2 236.4,174.4 237,176.4 237.6,175.4 238.2,177.2 238.8,172.9 239.4,176.3 240,177.7 240.6,176.2 241.2,176.6 241.8,175.1 242.4,178.5 243,177 243.6,176.2 244.2,177.7 244.8,178.1 245.4,175.4 246,173.4 246.6,172.9 247.2,174.7 247.8,175.3 248.4,174.6 251.3,174.7 251.9,176.1 252.5,176.5 253.1,175.8 253.7,174.8 254.3,176.2 254.9,175.3 255.5,177.6 256.1,176.3 256.7,176.9 257.3,178.5 257.9,176.7 258.5,175.3 259.1,175.6 259.7,175.2 260.3,175.5 260.9,175.7 261.5,175.7 262.1,176 262.7,179.1 263.3,176.6 263.9,176.7 264.5,179 265.1,177 265.7,178 266.3,174.6 266.9,176.5 269.8,177 270.4,177.2 271,177 271.6,177.1 272.2,176.8 272.8,176 273.4,174 274,176.9 274.6,175.5 275.2,175 275.8,176.8 276.4,176.6 277,177.1 277.6,175.8 278.2,175.1 278.8,175.6 279.4,180.1 280,178.3 280.6,179.2 281.2,179.1 281.8,178.6 282.4,177.2 283,177.6 288.8,176.4 291.7,178.5 292.4,212.5 288.6,214.6 289.3,213.9 290,214.5 290.7,213.8 291.4,214 292.1,215.4 292.8,213.9 293.5,214.9 294.2,213.8 294.9,216.6 295.6,214.2 296.3,216.5 297,215.2 297.7,213.2 298.4,215.7 299.1,214.3 299.8,214.5 300.5,214.5 301.2,213.4 301.9,215.9 304.6,214.6 305.3,218.5 306,215.2 306.7,215 307.4,218.6 308.1,215.9 308.8,216.4 309.5,215.9 310.2,216.3 310.9,216.3 311.6,219.3 312.3,215.8 313,218.5 313.7,217.5 316.4,216.8 317.1,218.5 317.8,217.6 318.5,218.4 319.2,216.9 319.9,217.5 320.6,214.9 321.3,217.5 322,219 322.7,217.3 323.4,216.6 324.1,217.6 324.8,218.6 325.5,218.7 326.2,218.8 326.9,217.7 327.6,218.2 328.3,217 329,218.5 329.7,218.9 332,217.5 337.8,230.5 335,216.5 337.3,216.2 339.3,215 340.8,213.7 342.4,212.6 344,212 345.6,212.6 347,213.6 348.5,213.3 350,214.5 351.6,215.4 353,216.5 355,235 355.2,217.6 357,219 359.5,225.5 362,229 364,231.5 366,236 370.3,247.5 370,265 367.8,275 374.5,280 373.8,294.2 374.5,294.7 375.1,295.4 375.8,296.9 376.4,295.3 377.1,298.3 377.7,298 378.4,298.1 379.2,296.9 380,295.1 380.8,296.8 381.6,297.6 382.4,296.3 383.2,297.9 384,296 384.8,296.9 385.5,294.3 386.3,293.8 387,294.8 387.8,296.2 388.5,298 389.3,296.2 389.8,295 390.2,294.1 390.7,292.8 391.1,291.5 391.5,292.5 391.9,291.4 392.2,292.7 392.4,291.3 392.7,291.2 392.9,289.6 393.2,286.9 393.4,284.9 393.7,287.3 394,286.6 394.3,284 394.6,283.5 394.9,283.1 395.2,281.9 384.8,282 397,283.5 398,277.5 400,282 402.5,279 404,284 405.5,285.9 406.4,287.7 407.4,287.6 408.3,286 409.2,282.4 410.1,286.4 411.1,286.4 412,285.4 412.9,288.2 413.8,286.9 414.8,286.6 415.7,292.1 416.7,288.8 417.6,287.7 418.6,290 419.5,291 420.5,286.8 421.4,292.1 422.4,293.1 423.3,292.6 424.3,290 425.2,286.9 426.2,288.7 427.1,284.8 428.1,284.7 429,288.8 430,290.4 430.9,291.2 431.9,292 432.8,287.6 433.8,286.6 434.7,282.6 435.7,285.4 436.6,284.1 437.6,284 438.5,287.7 439.5,288.5 440.4,287.8 441.4,289.6 442.3,288.5 443.2,285.4 444.2,287.3 445.1,282 446.1,285.1 447,289.8 448,290.1 448.9,286.4 449.9,287.6 450.8,287.4 451.8,291.7 452.7,284.8 453.7,283.4 454.6,291.2 455.6,287.3 456.5,287 458.3,273.2 459,287.3 459.9,286.9 460.9,285.9 461.8,287.9 462.8,284.9 463.7,286.5 464.7,286.7 465.6,286.9 466.6,290 467.5,286.1 468.5,286 469.4,284.7 470.4,285.4 471.3,285 472.5,286.1 473.5,285.4 474.5,283.8 475.4,283.5 476.4,282.8 477.3,281.7 478.2,281.9 479.1,280.4 480,279.4 480.9,278.2 481.8,277.2 482.7,276.5 483.5,275.5 484.4,274.1 485.2,273.3 486.1,272.7 486.5,256.5 489,251.5 486.5,245"/>
<g fill="#fff" stroke="#001cf2" stroke-width="2.5">
<circle cx="133" cy="177.4" r="3.95"/>
<circle cx="133.6" cy="177.4" r="3.95"/>
<circle cx="134.2" cy="177.7" r="3.95"/>
<circle cx="134.8" cy="176.5" r="3.95"/>
<circle cx="135.4" cy="177.9" r="3.95"/>
<circle cx="136" cy="177.7" r="3.95"/>
<circle cx="136.6" cy="177.5" r="3.95"/>
<circle cx="137.2" cy="177.4" r="3.95"/>
<circle cx="137.8" cy="175.5" r="3.95"/>
<circle cx="138.4" cy="178" r="3.95"/>
<circle cx="139" cy="174.7" r="3.95"/>
<circle cx="139.6" cy="177.8" r="3.95"/>
<circle cx="140.2" cy="176.3" r="3.95"/>
<circle cx="140.8" cy="176.9" r="3.95"/>
<circle cx="141.4" cy="176.1" r="3.95"/>
<circle cx="142" cy="175.7" r="3.95"/>
<circle cx="142.5" cy="177.2" r="3.95"/>
<circle cx="145.4" cy="175" r="3.95"/>
<circle cx="146" cy="175.1" r="3.95"/>
<circle cx="146.6" cy="174.9" r="3.95"/>
<circle cx="147.2" cy="176.1" r="3.95"/>
<circle cx="147.8" cy="176" r="3.95"/>
<circle cx="148.3" cy="177.7" r="3.95"/>
<circle cx="148.9" cy="175.7" r="3.95"/>
<circle cx="149.5" cy="175.7" r="3.95"/>
<circle cx="150.1" cy="175" r="3.95"/>
<circle cx="150.7" cy="174.7" r="3.95"/>
<circle cx="151.2" cy="174.4" r="3.95"/>
<circle cx="151.8" cy="175.1" r="3.95"/>
<circle cx="152.3" cy="175.5" r="3.95"/>
<circle cx="152.9" cy="172.9" r="3.95"/>
<circle cx="153.4" cy="175.3" r="3.95"/>
<circle cx="154" cy="173.2" r="3.95"/>
<circle cx="154.5" cy="171.1" r="3.95"/>
<circle cx="155.1" cy="173.1" r="3.95"/>
<circle cx="155.6" cy="171.2" r="3.95"/>
<circle cx="156.2" cy="169.4" r="3.95"/>
<circle cx="156.7" cy="169.1" r="3.95"/>
<circle cx="157.3" cy="174.2" r="3.95"/>
<circle cx="157.8" cy="170.7" r="3.95"/>
<circle cx="158.4" cy="172.6" r="3.95"/>
<circle cx="161.1" cy="171.8" r="3.95"/>
<circle cx="161.7" cy="169.3" r="3.95"/>
<circle cx="162.2" cy="171.7" r="3.95"/>
<circle cx="162.8" cy="171.7" r="3.95"/>
<circle cx="163.3" cy="169.4" r="3.95"/>
<circle cx="163.9" cy="167.9" r="3.95"/>
<circle cx="164.5" cy="167.7" r="3.95"/>
<circle cx="165.1" cy="167.3" r="3.95"/>
<circle cx="165.7" cy="168" r="3.95"/>
<circle cx="166.3" cy="168" r="3.95"/>
<circle cx="166.9" cy="169.5" r="3.95"/>
<circle cx="167.5" cy="169.7" r="3.95"/>
<circle cx="168.1" cy="169.4" r="3.95"/>
<circle cx="168.7" cy="168.8" r="3.95"/>
<circle cx="169.3" cy="166.5" r="3.95"/>
<circle cx="169.9" cy="170.6" r="3.95"/>
<circle cx="170.5" cy="169" r="3.95"/>
<circle cx="171.1" cy="169.3" r="3.95"/>
<circle cx="171.7" cy="171.8" r="3.95"/>
<circle cx="172.3" cy="169.1" r="3.95"/>
<circle cx="172.9" cy="170.3" r="3.95"/>
<circle cx="173.5" cy="169.9" r="3.95"/>
<circle cx="174.1" cy="169.6" r="3.95"/>
<circle cx="174.7" cy="172" r="3.95"/>
<circle cx="175.3" cy="170.8" r="3.95"/>
<circle cx="175.9" cy="169.8" r="3.95"/>
<circle cx="176.5" cy="171.7" r="3.95"/>
<circle cx="177" cy="171.2" r="3.95"/>
<circle cx="177.6" cy="171" r="3.95"/>
<circle cx="178.2" cy="172.9" r="3.95"/>
<circle cx="178.8" cy="168.8" r="3.95"/>
<circle cx="179.4" cy="168.6" r="3.95"/>
<circle cx="180" cy="169.2" r="3.95"/>
<circle cx="180.6" cy="170.6" r="3.95"/>
<circle cx="181.2" cy="171.9" r="3.95"/>
<circle cx="184.1" cy="169.7" r="3.95"/>
<circle cx="184.7" cy="172.3" r="3.95"/>
<circle cx="185.2" cy="169.6" r="3.95"/>
<circle cx="185.8" cy="172" r="3.95"/>
<circle cx="186.4" cy="171.9" r="3.95"/>
<circle cx="187" cy="171.6" r="3.95"/>
<circle cx="187.6" cy="170.6" r="3.95"/>
<circle cx="188.2" cy="172.2" r="3.95"/>
<circle cx="188.8" cy="172.1" r="3.95"/>
<circle cx="189.4" cy="171.7" r="3.95"/>
<circle cx="190" cy="172.9" r="3.95"/>
<circle cx="190.6" cy="173.5" r="3.95"/>
<circle cx="191.2" cy="173.2" r="3.95"/>
<circle cx="191.8" cy="174.5" r="3.95"/>
<circle cx="192.4" cy="174.3" r="3.95"/>
<circle cx="193" cy="174.2" r="3.95"/>
<circle cx="193.6" cy="174.8" r="3.95"/>
<circle cx="194.2" cy="172" r="3.95"/>
<circle cx="194.8" cy="172.5" r="3.95"/>
<circle cx="195.4" cy="171.8" r="3.95"/>
<circle cx="198.3" cy="171.1" r="3.95"/>
<circle cx="198.9" cy="169.6" r="3.95"/>
<circle cx="199.5" cy="171.7" r="3.95"/>
<circle cx="200.1" cy="172.1" r="3.95"/>
<circle cx="200.7" cy="174.5" r="3.95"/>
<circle cx="201.3" cy="172.7" r="3.95"/>
<circle cx="201.9" cy="174.9" r="3.95"/>
<circle cx="202.5" cy="174.7" r="3.95"/>
<circle cx="203.1" cy="172.8" r="3.95"/>
<circle cx="203.7" cy="172.2" r="3.95"/>
<circle cx="204.3" cy="172.5" r="3.95"/>
<circle cx="204.9" cy="169.9" r="3.95"/>
<circle cx="205.5" cy="173.4" r="3.95"/>
<circle cx="206.1" cy="172.4" r="3.95"/>
<circle cx="206.7" cy="171.6" r="3.95"/>
<circle cx="207.3" cy="173.3" r="3.95"/>
<circle cx="207.9" cy="172.4" r="3.95"/>
<circle cx="208.5" cy="174.1" r="3.95"/>
<circle cx="209.1" cy="171.2" r="3.95"/>
<circle cx="209.7" cy="174.2" r="3.95"/>
<circle cx="210.3" cy="175" r="3.95"/>
<circle cx="210.9" cy="172.6" r="3.95"/>
<circle cx="211.5" cy="174.2" r="3.95"/>
<circle cx="212.1" cy="175.3" r="3.95"/>
<circle cx="212.7" cy="172.5" r="3.95"/>
<circle cx="215.6" cy="172.1" r="3.95"/>
<circle cx="216.2" cy="174.5" r="3.95"/>
<circle cx="216.8" cy="171.8" r="3.95"/>
<circle cx="217.4" cy="171.7" r="3.95"/>
<circle cx="218" cy="171.3" r="3.95"/>
<circle cx="218.6" cy="174.7" r="3.95"/>
<circle cx="219.2" cy="174.4" r="3.95"/>
<circle cx="219.8" cy="173.9" r="3.95"/>
<circle cx="220.4" cy="174.1" r="3.95"/>
<circle cx="221" cy="172.7" r="3.95"/>
<circle cx="221.6" cy="173.1" r="3.95"/>
<circle cx="222.2" cy="174.6" r="3.95"/>
<circle cx="222.7" cy="175" r="3.95"/>
<circle cx="223.3" cy="174.9" r="3.95"/>
<circle cx="223.9" cy="174.7" r="3.95"/>
<circle cx="224.5" cy="173.6" r="3.95"/>
<circle cx="225.1" cy="174" r="3.95"/>
<circle cx="225.7" cy="173" r="3.95"/>
<circle cx="226.3" cy="176.5" r="3.95"/>
<circle cx="226.9" cy="172" r="3.95"/>
<circle cx="227.5" cy="173" r="3.95"/>
<circle cx="228.1" cy="174.8" r="3.95"/>
<circle cx="228.7" cy="175" r="3.95"/>
<circle cx="229.3" cy="173.2" r="3.95"/>
<circle cx="229.9" cy="173.2" r="3.95"/>
<circle cx="230.5" cy="174.1" r="3.95"/>
<circle cx="231.1" cy="173.6" r="3.95"/>
<circle cx="234" cy="176.2" r="3.95"/>
<circle cx="234.6" cy="175.8" r="3.95"/>
<circle cx="235.2" cy="176.5" r="3.95"/>
<circle cx="235.8" cy="176.2" r="3.95"/>
<circle cx="236.4" cy="174.4" r="3.95"/>
<circle cx="237" cy="176.4" r="3.95"/>
<circle cx="237.6" cy="175.4" r="3.95"/>
<circle cx="238.2" cy="177.2" r="3.95"/>
<circle cx="238.8" cy="172.9" r="3.95"/>
<circle cx="239.4" cy="176.3" r="3.95"/>
<circle cx="240" cy="177.7" r="3.95"/>
<circle cx="240.6" cy="176.2" r="3.95"/>
<circle cx="241.2" cy="176.6" r="3.95"/>
<circle cx="241.8" cy="175.1" r="3.95"/>
<circle cx="242.4" cy="178.5" r="3.95"/>
<circle cx="243" cy="177" r="3.95"/>
<circle cx="243.6" cy="176.2" r="3.95"/>
<circle cx="244.2" cy="177.7" r="3.95"/>
<circle cx="244.8" cy="178.1" r="3.95"/>
<circle cx="245.4" cy="175.4" r="3.95"/>
<circle cx="246" cy="173.4" r="3.95"/>
<circle cx="246.6" cy="172.9" r="3.95"/>
<circle cx="247.2" cy="174.7" r="3.95"/>
<circle cx="247.8" cy="175.3" r="3.95"/>
<circle cx="248.4" cy="174.6" r="3.95"/>
<circle cx="251.3" cy="174.7" r="3.95"/>
<circle cx="251.9" cy="176.1" r="3.95"/>
<circle cx="252.5" cy="176.5" r="3.95"/>
<circle cx="253.1" cy="175.8" r="3.95"/>
<circle cx="253.7" cy="174.8" r="3.95"/>
<circle cx="254.3" cy="176.2" r="3.95"/>
<circle cx="254.9" cy="175.3" r="3.95"/>
<circle cx="255.5" cy="177.6" r="3.95"/>
<circle cx="256.1" cy="176.3" r="3.95"/>
<circle cx="256.7" cy="176.9" r="3.95"/>
<circle cx="257.3" cy="178.5" r="3.95"/>
<circle cx="257.9" cy="176.7" r="3.95"/>
<circle cx="258.5" cy="175.3" r="3.95"/>
<circle cx="259.1" cy="175.6" r="3.95"/>
<circle cx="259.7" cy="175.2" r="3.95"/>
<circle cx="260.3" cy="175.5" r="3.95"/>
<circle cx="260.9" cy="175.7" r="3.95"/>
<circle cx="261.5" cy="175.7" r="3.95"/>
<circle cx="262.1" cy="176" r="3.95"/>
<circle cx="262.7" cy="179.1" r="3.95"/>
<circle cx="263.3" cy="176.6" r="3.95"/>
<circle cx="263.9" cy="176.7" r="3.95"/>
<circle cx="264.5" cy="179" r="3.95"/>
<circle cx="265.1" cy="177" r="3.95"/>
<circle cx="265.7" cy="178" r="3.95"/>
<circle cx="266.3" cy="174.6" r="3.95"/>
<circle cx="266.9" cy="176.5" r="3.95"/>
<circle cx="269.8" cy="177" r="3.95"/>
<circle cx="270.4" cy="177.2" r="3.95"/>
<circle cx="271" cy="177" r="3.95"/>
<circle cx="271.6" cy="177.1" r="3.95"/>
<circle cx="272.2" cy="176.8" r="3.95"/>
<circle cx="272.8" cy="176" r="3.95"/>
<circle cx="273.4" cy="174" r="3.95"/>
<circle cx="274" cy="176.9" r="3.95"/>
<circle cx="274.6" cy="175.5" r="3.95"/>
<circle cx="275.2" cy="175" r="3.95"/>
<circle cx="275.8" cy="176.8" r="3.95"/>
<circle cx="276.4" cy="176.6" r="3.95"/>
<circle cx="277" cy="177.1" r="3.95"/>
<circle cx="277.6" cy="175.8" r="3.95"/>
<circle cx="278.2" cy="175.1" r="3.95"/>
<circle cx="278.8" cy="175.6" r="3.95"/>
<circle cx="279.4" cy="180.1" r="3.95"/>
<circle cx="280" cy="178.3" r="3.95"/>
<circle cx="280.6" cy="179.2" r="3.95"/>
<circle cx="281.2" cy="179.1" r="3.95"/>
<circle cx="281.8" cy="178.6" r="3.95"/>
<circle cx="282.4" cy="177.2" r="3.95"/>
<circle cx="283" cy="177.6" r="3.95"/>
<circle cx="288.8" cy="176.4" r="3.95"/>
<circle cx="288.6" cy="214.6" r="3.95"/>
<circle cx="289.3" cy="213.9" r="3.95"/>
<circle cx="290" cy="214.5" r="3.95"/>
<circle cx="290.7" cy="213.8" r="3.95"/>
<circle cx="291.4" cy="214" r="3.95"/>
<circle cx="292.1" cy="215.4" r="3.95"/>
<circle cx="292.8" cy="213.9" r="3.95"/>
<circle cx="293.5" cy="214.9" r="3.95"/>
<circle cx="294.2" cy="213.8" r="3.95"/>
<circle cx="294.9" cy="216.6" r="3.95"/>
<circle cx="295.6" cy="214.2" r="3.95"/>
<circle cx="296.3" cy="216.5" r="3.95"/>
<circle cx="297" cy="215.2" r="3.95"/>
<circle cx="297.7" cy="213.2" r="3.95"/>
<circle cx="298.4" cy="215.7" r="3.95"/>
<circle cx="299.1" cy="214.3" r="3.95"/>
<circle cx="299.8" cy="214.5" r="3.95"/>
<circle cx="300.5" cy="214.5" r="3.95"/>
<circle cx="301.2" cy="213.4" r="3.95"/>
<circle cx="301.9" cy="215.9" r="3.95"/>
<circle cx="304.6" cy="214.6" r="3.95"/>
<circle cx="305.3" cy="218.5" r="3.95"/>
<circle cx="306" cy="215.2" r="3.95"/>
<circle cx="306.7" cy="215" r="3.95"/>
<circle cx="307.4" cy="218.6" r="3.95"/>
<circle cx="308.1" cy="215.9" r="3.95"/>
<circle cx="308.8" cy="216.4" r="3.95"/>
<circle cx="309.5" cy="215.9" r="3.95"/>
<circle cx="310.2" cy="216.3" r="3.95"/>
<circle cx="310.9" cy="216.3" r="3.95"/>
<circle cx="311.6" cy="219.3" r="3.95"/>
<circle cx="312.3" cy="215.8" r="3.95"/>
<circle cx="313" cy="218.5" r="3.95"/>
<circle cx="313.7" cy="217.5" r="3.95"/>
<circle cx="316.4" cy="216.8" r="3.95"/>
<circle cx="317.1" cy="218.5" r="3.95"/>
<circle cx="317.8" cy="217.6" r="3.95"/>
<circle cx="318.5" cy="218.4" r="3.95"/>
<circle cx="319.2" cy="216.9" r="3.95"/>
<circle cx="319.9" cy="217.5" r="3.95"/>
<circle cx="320.6" cy="214.9" r="3.95"/>
<circle cx="321.3" cy="217.5" r="3.95"/>
<circle cx="322" cy="219" r="3.95"/>
<circle cx="322.7" cy="217.3" r="3.95"/>
<circle cx="323.4" cy="216.6" r="3.95"/>
<circle cx="324.1" cy="217.6" r="3.95"/>
<circle cx="324.8" cy="218.6" r="3.95"/>
<circle cx="325.5" cy="218.7" r="3.95"/>
<circle cx="326.2" cy="218.8" r="3.95"/>
<circle cx="326.9" cy="217.7" r="3.95"/>
<circle cx="327.6" cy="218.2" r="3.95"/>
<circle cx="328.3" cy="217" r="3.95"/>
<circle cx="329" cy="218.5" r="3.95"/>
<circle cx="329.7" cy="218.9" r="3.95"/>
<circle cx="332" cy="217.5" r="3.95"/>
<circle cx="337.8" cy="230.5" r="3.95"/>
<circle cx="335" cy="216.5" r="3.95"/>
<circle cx="337.3" cy="216.2" r="3.95"/>
<circle cx="339.3" cy="215" r="3.95"/>
<circle cx="340.8" cy="213.7" r="3.95"/>
<circle cx="342.4" cy="212.6" r="3.95"/>
<circle cx="344" cy="212" r="3.95"/>
<circle cx="345.6" cy="212.6" r="3.95"/>
<circle cx="347" cy="213.6" r="3.95"/>
<circle cx="348.5" cy="213.3" r="3.95"/>
<circle cx="350" cy="214.5" r="3.95"/>
<circle cx="351.6" cy="215.4" r="3.95"/>
<circle cx="353" cy="216.5" r="3.95"/>
<circle cx="355" cy="235" r="3.95"/>
<circle cx="355.2" cy="217.6" r="3.95"/>
<circle cx="357" cy="219" r="3.95"/>
<circle cx="359.5" cy="225.5" r="3.95"/>
<circle cx="362" cy="229" r="3.95"/>
<circle cx="364" cy="231.5" r="3.95"/>
<circle cx="366" cy="236" r="3.95"/>
<circle cx="370.3" cy="247.5" r="3.95"/>
<circle cx="370" cy="265" r="3.95"/>
<circle cx="367.8" cy="275" r="3.95"/>
<circle cx="374.5" cy="280" r="3.95"/>
<circle cx="373.8" cy="294.2" r="3.95"/>
<circle cx="374.5" cy="294.7" r="3.95"/>
<circle cx="375.1" cy="295.4" r="3.95"/>
<circle cx="375.8" cy="296.9" r="3.95"/>
<circle cx="376.4" cy="295.3" r="3.95"/>
<circle cx="377.1" cy="298.3" r="3.95"/>
<circle cx="377.7" cy="298" r="3.95"/>
<circle cx="378.4" cy="298.1" r="3.95"/>
<circle cx="379.2" cy="296.9" r="3.95"/>
<circle cx="380" cy="295.1" r="3.95"/>
<circle cx="380.8" cy="296.8" r="3.95"/>
<circle cx="381.6" cy="297.6" r="3.95"/>
<circle cx="382.4" cy="296.3" r="3.95"/>
<circle cx="383.2" cy="297.9" r="3.95"/>
<circle cx="384" cy="296" r="3.95"/>
<circle cx="384.8" cy="296.9" r="3.95"/>
<circle cx="385.5" cy="294.3" r="3.95"/>
<circle cx="386.3" cy="293.8" r="3.95"/>
<circle cx="387" cy="294.8" r="3.95"/>
<circle cx="387.8" cy="296.2" r="3.95"/>
<circle cx="388.5" cy="298" r="3.95"/>
<circle cx="389.3" cy="296.2" r="3.95"/>
<circle cx="389.8" cy="295" r="3.95"/>
<circle cx="390.2" cy="294.1" r="3.95"/>
<circle cx="390.7" cy="292.8" r="3.95"/>
<circle cx="391.1" cy="291.5" r="3.95"/>
<circle cx="391.5" cy="292.5" r="3.95"/>
<circle cx="391.9" cy="291.4" r="3.95"/>
<circle cx="392.2" cy="292.7" r="3.95"/>
<circle cx="392.4" cy="291.3" r="3.95"/>
<circle cx="392.7" cy="291.2" r="3.95"/>
<circle cx="392.9" cy="289.6" r="3.95"/>
<circle cx="393.2" cy="286.9" r="3.95"/>
<circle cx="393.4" cy="284.9" r="3.95"/>
<circle cx="393.7" cy="287.3" r="3.95"/>
<circle cx="394" cy="286.6" r="3.95"/>
<circle cx="394.3" cy="284" r="3.95"/>
<circle cx="394.6" cy="283.5" r="3.95"/>
<circle cx="394.9" cy="283.1" r="3.95"/>
<circle cx="395.2" cy="281.9" r="3.95"/>
<circle cx="384.8" cy="282" r="3.95"/>
<circle cx="397" cy="283.5" r="3.95"/>
<circle cx="398" cy="277.5" r="3.95"/>
<circle cx="400" cy="282" r="3.95"/>
<circle cx="402.5" cy="279" r="3.95"/>
<circle cx="404" cy="284" r="3.95"/>
<circle cx="405.5" cy="285.9" r="3.95"/>
<circle cx="406.4" cy="287.7" r="3.95"/>
<circle cx="407.4" cy="287.6" r="3.95"/>
<circle cx="408.3" cy="286" r="3.95"/>
<circle cx="409.2" cy="282.4" r="3.95"/>
<circle cx="410.1" cy="286.4" r="3.95"/>
<circle cx="411.1" cy="286.4" r="3.95"/>
<circle cx="412" cy="285.4" r="3.95"/>
<circle cx="412.9" cy="288.2" r="3.95"/>
<circle cx="413.8" cy="286.9" r="3.95"/>
<circle cx="414.8" cy="286.6" r="3.95"/>
<circle cx="415.7" cy="292.1" r="3.95"/>
<circle cx="416.7" cy="288.8" r="3.95"/>
<circle cx="417.6" cy="287.7" r="3.95"/>
<circle cx="418.6" cy="290" r="3.95"/>
<circle cx="419.5" cy="291" r="3.95"/>
<circle cx="420.5" cy="286.8" r="3.95"/>
<circle cx="421.4" cy="292.1" r="3.95"/>
<circle cx="422.4" cy="293.1" r="3.95"/>
<circle cx="423.3" cy="292.6" r="3.95"/>
<circle cx="424.3" cy="290" r="3.95"/>
<circle cx="425.2" cy="286.9" r="3.95"/>
<circle cx="426.2" cy="288.7" r="3.95"/>
<circle cx="427.1" cy="284.8" r="3.95"/>
<circle cx="428.1" cy="284.7" r="3.95"/>
<circle cx="429" cy="288.8" r="3.95"/>
<circle cx="430" cy="290.4" r="3.95"/>
<circle cx="430.9" cy="291.2" r="3.95"/>
<circle cx="431.9" cy="292" r="3.95"/>
<circle cx="432.8" cy="287.6" r="3.95"/>
<circle cx="433.8" cy="286.6" r="3.95"/>
<circle cx="434.7" cy="282.6" r="3.95"/>
<circle cx="435.7" cy="285.4" r="3.95"/>
<circle cx="436.6" cy="284.1" r="3.95"/>
<circle cx="437.6" cy="284" r="3.95"/>
<circle cx="438.5" cy="287.7" r="3.95"/>
<circle cx="439.5" cy="288.5" r="3.95"/>
<circle cx="440.4" cy="287.8" r="3.95"/>
<circle cx="441.4" cy="289.6" r="3.95"/>
<circle cx="442.3" cy="288.5" r="3.95"/>
<circle cx="443.2" cy="285.4" r="3.95"/>
<circle cx="444.2" cy="287.3" r="3.95"/>
<circle cx="445.1" cy="282" r="3.95"/>
<circle cx="446.1" cy="285.1" r="3.95"/>
<circle cx="447" cy="289.8" r="3.95"/>
<circle cx="448" cy="290.1" r="3.95"/>
<circle cx="448.9" cy="286.4" r="3.95"/>
<circle cx="449.9" cy="287.6" r="3.95"/>
<circle cx="450.8" cy="287.4" r="3.95"/>
<circle cx="451.8" cy="291.7" r="3.95"/>
<circle cx="452.7" cy="284.8" r="3.95"/>
<circle cx="453.7" cy="283.4" r="3.95"/>
<circle cx="454.6" cy="291.2" r="3.95"/>
<circle cx="455.6" cy="287.3" r="3.95"/>
<circle cx="456.5" cy="287" r="3.95"/>
<circle cx="458.3" cy="273.2" r="3.95"/>
<circle cx="459" cy="287.3" r="3.95"/>
<circle cx="459.9" cy="286.9" r="3.95"/>
<circle cx="460.9" cy="285.9" r="3.95"/>
<circle cx="461.8" cy="287.9" r="3.95"/>
<circle cx="462.8" cy="284.9" r="3.95"/>
<circle cx="463.7" cy="286.5" r="3.95"/>
<circle cx="464.7" cy="286.7" r="3.95"/>
<circle cx="465.6" cy="286.9" r="3.95"/>
<circle cx="466.6" cy="290" r="3.95"/>
<circle cx="467.5" cy="286.1" r="3.95"/>
<circle cx="468.5" cy="286" r="3.95"/>
<circle cx="469.4" cy="284.7" r="3.95"/>
<circle cx="470.4" cy="285.4" r="3.95"/>
<circle cx="471.3" cy="285" r="3.95"/>
<circle cx="472.5" cy="286.1" r="3.95"/>
<circle cx="473.5" cy="285.4" r="3.95"/>
<circle cx="474.5" cy="283.8" r="3.95"/>
<circle cx="475.4" cy="283.5" r="3.95"/>
<circle cx="476.4" cy="282.8" r="3.95"/>
<circle cx="477.3" cy="281.7" r="3.95"/>
<circle cx="478.2" cy="281.9" r="3.95"/>
<circle cx="479.1" cy="280.4" r="3.95"/>
<circle cx="480" cy="279.4" r="3.95"/>
<circle cx="480.9" cy="278.2" r="3.95"/>
<circle cx="481.8" cy="277.2" r="3.95"/>
<circle cx="482.7" cy="276.5" r="3.95"/>
<circle cx="483.5" cy="275.5" r="3.95"/>
<circle cx="484.4" cy="274.1" r="3.95"/>
<circle cx="485.2" cy="273.3" r="3.95"/>
<circle cx="486.1" cy="272.7" r="3.95"/>
<circle cx="486.5" cy="256.5" r="3.95"/>
<circle cx="489" cy="251.5" r="3.95"/>
<circle cx="486.5" cy="245" r="3.95"/>
</g>
<rect x="102" y="17.9" width="475" height="467.4" fill="none" stroke="#000" stroke-width="2.2"/>
<line x1="131.6" y1="157.4" x2="152.6" y2="159" stroke="#001cf2" stroke-width="2.4"/><polygon fill="#001cf2" points="165.2,160 151.1,165.9 151.6,159 152.2,152"/>
<line x1="210.7" y1="206.6" x2="185.4" y2="205.2" stroke="#c00000" stroke-width="2.4"/><polygon fill="#c00000" points="172.8,204.5 186.8,198.3 186.4,205.3 186,212.2"/>
<line x1="136.2" y1="265.3" x2="157.9" y2="266.9" stroke="#c00000" stroke-width="2.4"/><polygon fill="#c00000" points="170.5,267.8 156.4,273.8 156.9,266.8 157.4,259.8"/>
<line x1="327.8" y1="280.8" x2="352.1" y2="282.8" stroke="#c00000" stroke-width="2.4"/><polygon fill="#c00000" points="364.7,283.8 350.6,289.7 351.1,282.7 351.7,275.7"/>
<line x1="382.3" y1="246.4" x2="383.2" y2="262" stroke="#001cf2" stroke-width="2.4"/><polygon fill="#001cf2" points="384,274.6 376.2,261.4 383.2,261 390.2,260.6"/>
<line x1="416" y1="272.2" x2="437.4" y2="272.2" stroke="#001cf2" stroke-width="2.4"/><polygon fill="#001cf2" points="450,272.2 436.4,279.2 436.4,272.2 436.4,265.2"/>
<line x1="500" y1="280.5" x2="500" y2="265.6" stroke="#001cf2" stroke-width="2.4"/><polygon fill="#001cf2" points="500,253 507,266.6 500,266.6 493,266.6"/>
<line x1="500.8" y1="226.2" x2="476.1" y2="224.7" stroke="#c00000" stroke-width="2.4"/><polygon fill="#c00000" points="463.5,224 477.5,217.8 477.1,224.8 476.7,231.8"/>
<line x1="360" y1="179.4" x2="360" y2="199.6" stroke="#000" stroke-width="2.5"/><polygon fill="#000" points="360,213.6 352.7,193 360,198.6 367.3,193"/>
<line x1="474" y1="332" x2="474" y2="311.8" stroke="#000" stroke-width="2.5"/><polygon fill="#000" points="474,297.8 481.3,318.4 474,312.8 466.7,318.4"/>
<line x1="480.6" y1="352" x2="480.6" y2="331" stroke="#000" stroke-width="2.5"/><polygon fill="#000" points="480.6,317 487.9,337.6 480.6,332 473.3,337.6"/>
<path d="M146 47.6H216.6" stroke="#c00000" stroke-width="1.8"/><circle cx="180.4" cy="47.6" r="3.95" fill="#fff" stroke="#c00000" stroke-width="2.5"/>
<path d="M146 88.6H216.6" stroke="#001cf2" stroke-width="1.8"/><circle cx="180.4" cy="88.6" r="3.95" fill="#fff" stroke="#001cf2" stroke-width="2.5"/>
<g font-family="'Liberation Sans', sans-serif" font-size="25">
<text x="228.1" y="55.6" fill="#c00000" textLength="212.3" lengthAdjust="spacing">1st heating/cooling</text>
<text x="228" y="96.9" fill="#001cf2" textLength="133.8" lengthAdjust="spacing">2nd heating</text>
</g>
<g font-family="'Liberation Sans', sans-serif" font-size="28.8" fill="#000">
<text x="336.5" y="169.5">220 °C</text>
<text x="371" y="352.5">315 °C</text>
<text x="459" y="389.3">320 °C</text>
</g>
<g font-family="'Liberation Sans', sans-serif" font-size="29" fill="#000">
<text x="102" y="519.8" text-anchor="middle">0</text>
<text x="221" y="519.8" text-anchor="middle">100</text>
<text x="340" y="519.8" text-anchor="middle">200</text>
<text x="458.7" y="519.8" text-anchor="middle">300</text>
<text x="577.6" y="519.8" text-anchor="middle">400</text>
<text x="45.4" y="494.9">10<tspan font-size="20.5" dy="-12.5">1</tspan></text>
<text x="45.4" y="378.1">10<tspan font-size="20.5" dy="-12.5">3</tspan></text>
<text x="45.4" y="261.2">10<tspan font-size="20.5" dy="-12.5">5</tspan></text>
<text x="45.4" y="144.3">10<tspan font-size="20.5" dy="-12.5">7</tspan></text>
<text x="45.4" y="27.5">10<tspan font-size="20.5" dy="-12.5">9</tspan></text>
<text x="226" y="562.3" font-size="29.2">Temperature</text>
<text x="401.6" y="562.3" font-size="28.7">(°C)</text>
<g transform="translate(21.9,351.6) rotate(-90)" font-size="29.1"><text x="0" y="0">Resistance</text><text x="151" y="0">(</text><text x="168.6" y="0" font-family="'Liberation Serif', serif" font-size="29.5" textLength="19.6" lengthAdjust="spacingAndGlyphs">Ω</text><text x="189" y="0">)</text></g>
</g>
<path fill="#fff" d="M46.8 491.6h5.6v4.2h-5.6zM55.5 491.6h5.7v4.2h-5.7z"/>
<path fill="#fff" d="M46.8 374.8h5.6v4.2h-5.6zM55.5 374.8h5.7v4.2h-5.7z"/>
<path fill="#fff" d="M46.8 257.9h5.6v4.2h-5.6zM55.5 257.9h5.7v4.2h-5.7z"/>
<path fill="#fff" d="M46.8 141.1h5.6v4.2h-5.6zM55.5 141.1h5.7v4.2h-5.7z"/>
<path fill="#fff" d="M46.8 24.2h5.6v4.2h-5.6zM55.5 24.2h5.7v4.2h-5.7z"/>
<path fill="#fff" d="M78.4 479.8h4.1v3.5h-4.1zM84.9 479.8h4.2v3.5h-4.2z"/>
<path fill="#fff" d="M198.2 516.5h5.6v4.2h-5.6zM206.9 516.5h5.7v4.2h-5.7z"/>
<path fill="#fff" d="M229.2 52.6h4.9v3.9h-4.9zM236.8 52.6h5v3.9h-5z"/>
<path fill="#fff" d="M388.4 349.2h5.6v4.2h-5.6zM397.1 349.2h5.6v4.2h-5.6z"/>
</svg>
</body>
</html>
